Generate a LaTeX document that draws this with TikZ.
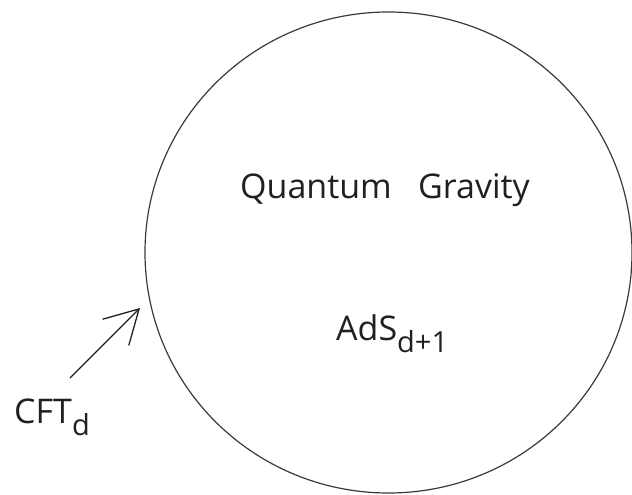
\documentclass[tikz,border=0pt]{standalone}
\usepackage{fontspec}
\setmainfont{Open Sans}
\usetikzlibrary{arrows.meta}
\definecolor{ink}{HTML}{231F20}
\definecolor{rim}{HTML}{3A3A3A}
\newcommand{\sbs}[1]{\raisebox{-12pt}{\fontsize{29}{29}\selectfont #1}}
\tikzset{
  lbl/.style={anchor=base west, inner sep=0pt, text=ink, font=\fontsize{34}{34}\selectfont},
  bulk/.style={draw=rim, line width=1.2pt},
  pointer/.style={draw=ink, line width=1.3pt, -{Straight Barb[length=33pt, width=37pt, line width=1.3pt]}}
}
\begin{document}
\begin{tikzpicture}[x=1pt, y=-1pt]
\useasboundingbox (0,0) rectangle (632,495);
\draw[bulk] (388.5,252.5) ellipse [x radius=243.5pt, y radius=240.5pt];
\node[lbl] (qu) at (240,198) {Quantum};
\node[lbl] (gr) at (418,198) {Gravity};
\node[lbl] (ads) at (336,340) {AdS\sbs{d+1}};
\node[lbl] (cft) at (14,423) {CFT\sbs{d}};
\coordinate (tail) at (70,378);
\coordinate (tip) at (140,308);
\draw[pointer] (tail) -- (tip);
\end{tikzpicture}
\end{document}
